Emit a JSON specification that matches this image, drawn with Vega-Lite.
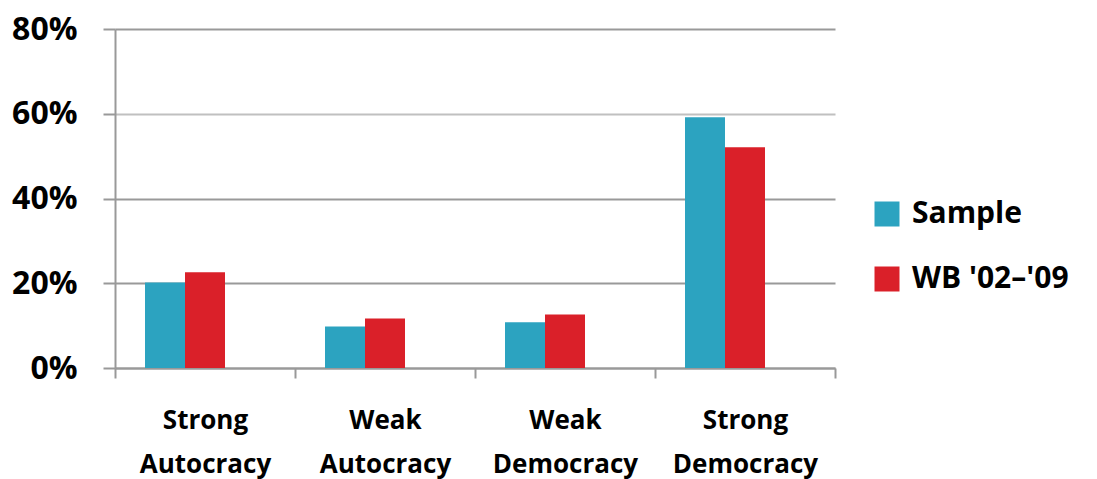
{
  "$schema": "https://vega.github.io/schema/vega-lite/v6.json",
  "width": 720,
  "height": 339,
  "autosize": {"type": "none"},
  "padding": {"left": 115, "top": 29, "right": 262, "bottom": 111},
  "background": "white",
  "config": {"view": {"stroke": null}},
  "data": {
    "values": [
      {"category": "Strong Autocracy", "series": "Sample", "value": 0.202},
      {"category": "Strong Autocracy", "series": "WB '02–'09", "value": 0.226},
      {"category": "Weak Autocracy", "series": "Sample", "value": 0.098},
      {"category": "Weak Autocracy", "series": "WB '02–'09", "value": 0.117},
      {"category": "Weak Democracy", "series": "Sample", "value": 0.108},
      {"category": "Weak Democracy", "series": "WB '02–'09", "value": 0.126},
      {"category": "Strong Democracy", "series": "Sample", "value": 0.592},
      {"category": "Strong Democracy", "series": "WB '02–'09", "value": 0.521}
    ]
  },
  "mark": {"type": "bar"},
  "encoding": {
    "x": {
      "field": "category",
      "type": "nominal",
      "sort": ["Strong Autocracy", "Weak Autocracy", "Weak Democracy", "Strong Democracy"],
      "scale": {"paddingInner": 0, "paddingOuter": 0},
      "title": null,
      "axis": {
        "labelAngle": 0,
        "labelExpr": "split(datum.label, ' ')",
        "labelFont": "Open Sans",
        "labelFontSize": 26,
        "labelFontWeight": "bold",
        "labelColor": "black",
        "labelLineHeight": 44,
        "labelPadding": 29,
        "labelBaseline": "top",
        "tickBand": "extent",
        "tickSize": 10,
        "tickWidth": 2,
        "tickColor": "#999999",
        "domainColor": "#999999",
        "domainWidth": 2,
        "grid": false
      }
    },
    "xOffset": {
      "field": "series",
      "type": "nominal",
      "scale": {"domain": ["Sample", "WB '02–'09", "blank"], "paddingInner": 0, "paddingOuter": 0.75}
    },
    "y": {
      "field": "value",
      "type": "quantitative",
      "scale": {"domain": [0, 0.8], "nice": false},
      "title": null,
      "axis": {
        "values": [0, 0.2, 0.4, 0.6, 0.8],
        "format": ".0%",
        "labelFont": "Open Sans",
        "labelFontSize": 32,
        "labelFontWeight": "bold",
        "labelColor": "black",
        "labelPadding": 26,
        "tickSize": 12,
        "tickWidth": 2,
        "tickColor": "#999999",
        "domainColor": "#999999",
        "domainWidth": 2,
        "grid": true,
        "gridWidth": 2,
        "gridColor": {"condition": {"test": "datum.value === 0.6", "value": "#c0c0c0"}, "value": "#999999"}
      }
    },
    "color": {
      "field": "series",
      "type": "nominal",
      "scale": {"domain": ["Sample", "WB '02–'09"], "range": ["#2ca3c0", "#da2029"]},
      "legend": {
        "title": null,
        "orient": "none",
        "legendX": 757,
        "legendY": 170,
        "symbolType": "square",
        "symbolSize": 625,
        "symbolStrokeWidth": 0,
        "labelFont": "Open Sans",
        "labelFontSize": 30,
        "labelFontWeight": "bold",
        "labelColor": "black",
        "labelOffset": 10,
        "rowPadding": 35,
        "padding": 0
      }
    }
  }
}
